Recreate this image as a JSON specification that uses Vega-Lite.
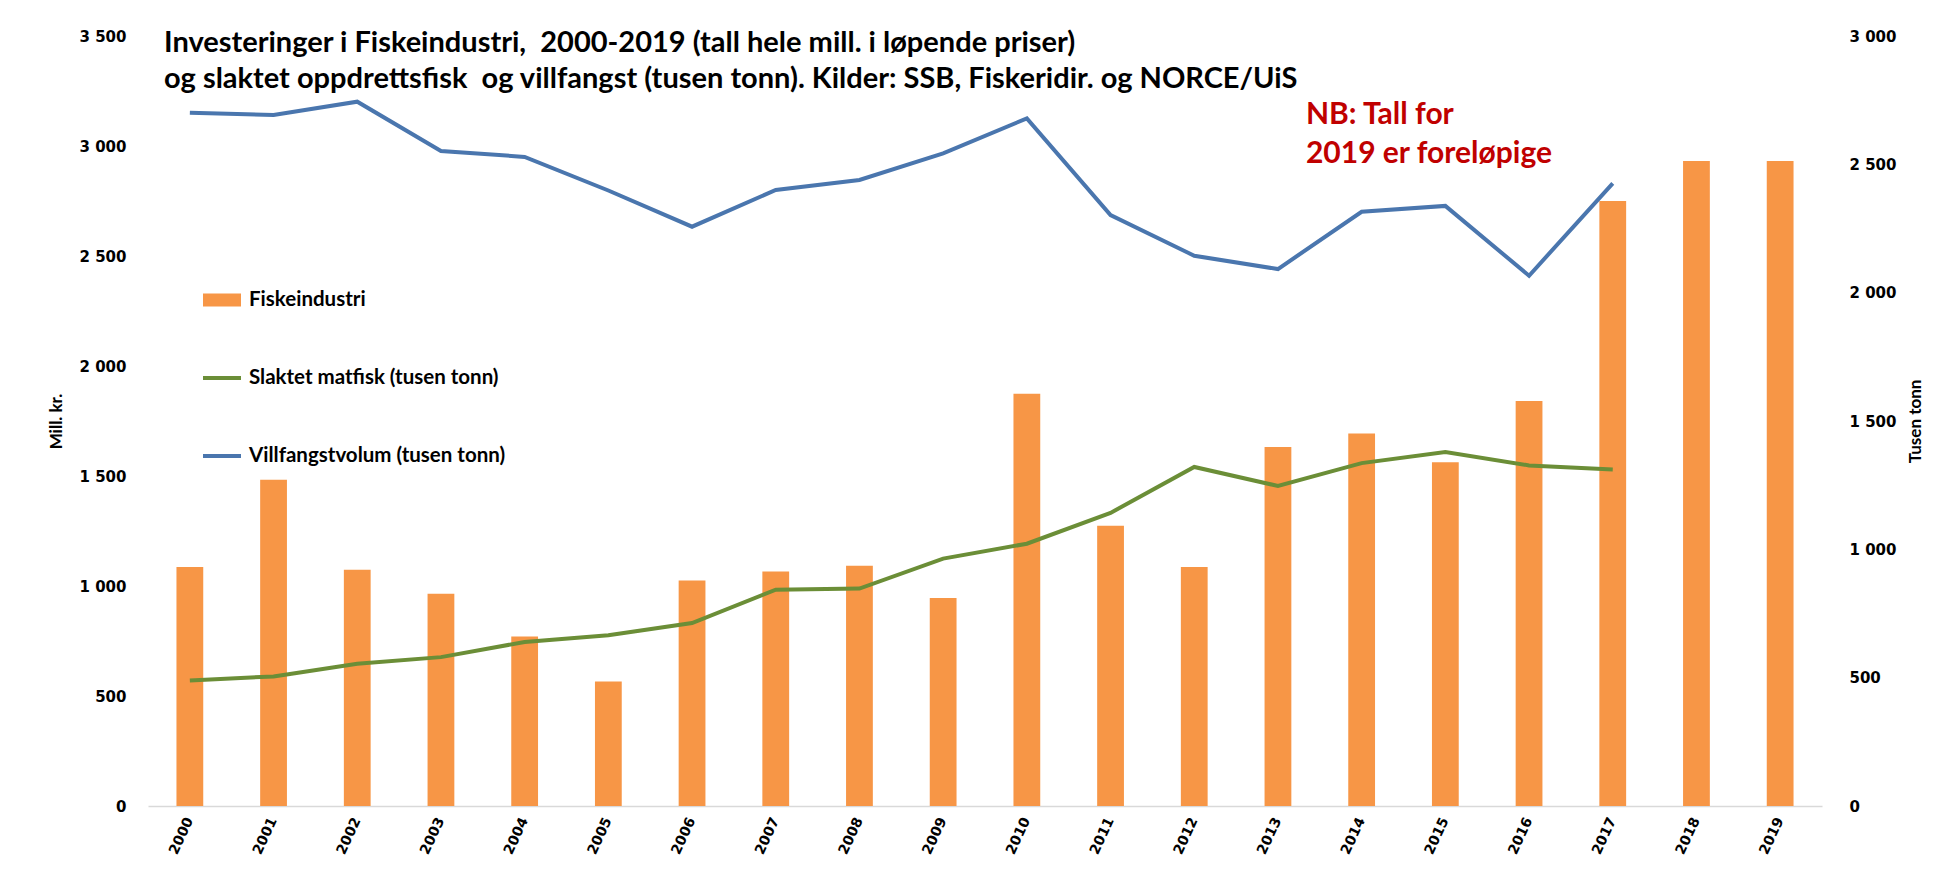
{
  "$schema": "https://vega.github.io/schema/vega-lite/v6.json",
  "width": 1674,
  "height": 770,
  "autosize": "none",
  "padding": {"left": 148, "top": 36, "right": 113, "bottom": 71},
  "background": "white",
  "config": {"view": {"stroke": null}, "font": "Lato"},
  "title": {
    "text": ["Investeringer i Fiskeindustri,\u00a0 2000-2019 (tall hele mill. i løpende priser)", "og slaktet oppdrettsfisk\u00a0 og villfangst (tusen tonn). Kilder: SSB, Fiskeridir. og NORCE/UiS"],
    "anchor": "start",
    "frame": "group",
    "orient": "top",
    "offset": 0,
    "dx": 16,
    "dy": 65,
    "font": "Lato",
    "fontSize": 29,
    "fontWeight": "bold",
    "color": "black",
    "lineHeight": 36,
    "baseline": "top"
  },
  "data": {
    "values": [
      {"year": "2000", "series": "Fiskeindustri", "value": 1086},
      {"year": "2001", "series": "Fiskeindustri", "value": 1483},
      {"year": "2002", "series": "Fiskeindustri", "value": 1074},
      {"year": "2003", "series": "Fiskeindustri", "value": 965},
      {"year": "2004", "series": "Fiskeindustri", "value": 771},
      {"year": "2005", "series": "Fiskeindustri", "value": 566},
      {"year": "2006", "series": "Fiskeindustri", "value": 1025},
      {"year": "2007", "series": "Fiskeindustri", "value": 1066},
      {"year": "2008", "series": "Fiskeindustri", "value": 1092},
      {"year": "2009", "series": "Fiskeindustri", "value": 945},
      {"year": "2010", "series": "Fiskeindustri", "value": 1874},
      {"year": "2011", "series": "Fiskeindustri", "value": 1274},
      {"year": "2012", "series": "Fiskeindustri", "value": 1086},
      {"year": "2013", "series": "Fiskeindustri", "value": 1632},
      {"year": "2014", "series": "Fiskeindustri", "value": 1693},
      {"year": "2015", "series": "Fiskeindustri", "value": 1563},
      {"year": "2016", "series": "Fiskeindustri", "value": 1841},
      {"year": "2017", "series": "Fiskeindustri", "value": 2750},
      {"year": "2018", "series": "Fiskeindustri", "value": 2932},
      {"year": "2019", "series": "Fiskeindustri", "value": 2932},
      {"year": "2000", "series": "Slaktet matfisk (tusen tonn)", "value": 489},
      {"year": "2001", "series": "Slaktet matfisk (tusen tonn)", "value": 505},
      {"year": "2002", "series": "Slaktet matfisk (tusen tonn)", "value": 554},
      {"year": "2003", "series": "Slaktet matfisk (tusen tonn)", "value": 580},
      {"year": "2004", "series": "Slaktet matfisk (tusen tonn)", "value": 639},
      {"year": "2005", "series": "Slaktet matfisk (tusen tonn)", "value": 665},
      {"year": "2006", "series": "Slaktet matfisk (tusen tonn)", "value": 713},
      {"year": "2007", "series": "Slaktet matfisk (tusen tonn)", "value": 843},
      {"year": "2008", "series": "Slaktet matfisk (tusen tonn)", "value": 847},
      {"year": "2009", "series": "Slaktet matfisk (tusen tonn)", "value": 964},
      {"year": "2010", "series": "Slaktet matfisk (tusen tonn)", "value": 1022},
      {"year": "2011", "series": "Slaktet matfisk (tusen tonn)", "value": 1142},
      {"year": "2012", "series": "Slaktet matfisk (tusen tonn)", "value": 1321},
      {"year": "2013", "series": "Slaktet matfisk (tusen tonn)", "value": 1247},
      {"year": "2014", "series": "Slaktet matfisk (tusen tonn)", "value": 1336},
      {"year": "2015", "series": "Slaktet matfisk (tusen tonn)", "value": 1379},
      {"year": "2016", "series": "Slaktet matfisk (tusen tonn)", "value": 1327},
      {"year": "2017", "series": "Slaktet matfisk (tusen tonn)", "value": 1311},
      {"year": "2000", "series": "Villfangstvolum (tusen tonn)", "value": 2701},
      {"year": "2001", "series": "Villfangstvolum (tusen tonn)", "value": 2692},
      {"year": "2002", "series": "Villfangstvolum (tusen tonn)", "value": 2744},
      {"year": "2003", "series": "Villfangstvolum (tusen tonn)", "value": 2552},
      {"year": "2004", "series": "Villfangstvolum (tusen tonn)", "value": 2529},
      {"year": "2005", "series": "Villfangstvolum (tusen tonn)", "value": 2398},
      {"year": "2006", "series": "Villfangstvolum (tusen tonn)", "value": 2257},
      {"year": "2007", "series": "Villfangstvolum (tusen tonn)", "value": 2400},
      {"year": "2008", "series": "Villfangstvolum (tusen tonn)", "value": 2439},
      {"year": "2009", "series": "Villfangstvolum (tusen tonn)", "value": 2543},
      {"year": "2010", "series": "Villfangstvolum (tusen tonn)", "value": 2679},
      {"year": "2011", "series": "Villfangstvolum (tusen tonn)", "value": 2302},
      {"year": "2012", "series": "Villfangstvolum (tusen tonn)", "value": 2144},
      {"year": "2013", "series": "Villfangstvolum (tusen tonn)", "value": 2092},
      {"year": "2014", "series": "Villfangstvolum (tusen tonn)", "value": 2315},
      {"year": "2015", "series": "Villfangstvolum (tusen tonn)", "value": 2338},
      {"year": "2016", "series": "Villfangstvolum (tusen tonn)", "value": 2066},
      {"year": "2017", "series": "Villfangstvolum (tusen tonn)", "value": 2426}
    ]
  },
  "layer": [
    {
      "transform": [{"filter": "datum.series === 'Fiskeindustri'"}],
      "mark": {"type": "bar"},
      "encoding": {
        "x": {
          "field": "year", "type": "ordinal",
          "scale": {"paddingInner": 0.68, "paddingOuter": 0.34},
          "axis": {
            "title": null, "labelAngle": -65, "labelFont": "DejaVu Sans", "labelFontSize": 14,
            "labelFontWeight": "bold", "labelColor": "black", "labelPadding": 12,
            "ticks": false, "domainColor": "#D9D9D9", "domainWidth": 1.5
          }
        },
        "y": {
          "field": "value", "type": "quantitative",
          "scale": {"domain": [0, 3500], "nice": false},
          "axis": {
            "orient": "left", "title": "Mill. kr.", "titleFont": "Lato", "titleFontSize": 17,
            "titleFontWeight": "bold", "titleColor": "black", "titlePadding": 14,
            "labelFont": "DejaVu Sans", "labelFontSize": 15, "labelFontWeight": "bold",
            "labelColor": "black", "labelPadding": 22, "ticks": false, "domain": false, "grid": false,
            "values": [0, 500, 1000, 1500, 2000, 2500, 3000, 3500],
            "labelExpr": "replace(format(datum.value, ','), ',', ' ')"
          }
        },
        "color": {
          "field": "series", "type": "nominal",
          "scale": {
            "domain": ["Fiskeindustri", "Slaktet matfisk (tusen tonn)", "Villfangstvolum (tusen tonn)"],
            "range": ["#F79646", "#6B8E37", "#4A76AE"]
          },
          "legend": null
        }
      }
    },
    {
      "transform": [{"filter": "datum.series !== 'Fiskeindustri'"}],
      "mark": {"type": "line", "strokeWidth": 4},
      "encoding": {
        "x": {"field": "year", "type": "ordinal"},
        "y": {
          "field": "value", "type": "quantitative",
          "scale": {"domain": [0, 3000], "nice": false},
          "axis": {
            "orient": "right", "title": "Tusen tonn", "titleAngle": 270, "titleFont": "Lato", "titleFontSize": 17,
            "titleFontWeight": "bold", "titleColor": "black", "titlePadding": 29,
            "labelFont": "DejaVu Sans", "labelFontSize": 15, "labelFontWeight": "bold",
            "labelColor": "black", "labelPadding": 27, "ticks": false, "domain": false, "grid": false,
            "values": [0, 500, 1000, 1500, 2000, 2500, 3000],
            "labelExpr": "replace(format(datum.value, ','), ',', ' ')"
          }
        },
        "color": {"field": "series", "type": "nominal", "legend": null}
      }
    },
    {
      "data": {
        "values": [
          {"year": "2013", "note": "NB: Tall for", "value": 3140},
          {"year": "2013", "note": "2019 er foreløpige", "value": 2963}
        ]
      },
      "mark": {"type": "text", "align": "left", "baseline": "middle", "dx": 28, "font": "Lato", "fontSize": 30, "fontWeight": "bold", "color": "#C00000"},
      "encoding": {
        "x": {"field": "year", "type": "ordinal"},
        "y": {"field": "value", "type": "quantitative", "scale": {"domain": [0, 3500], "nice": false}, "axis": null},
        "text": {"field": "note"}
      }
    },
    {
      "mark": {"type": "point", "filled": true, "opacity": 0},
      "encoding": {
        "x": {"field": "year", "type": "ordinal"},
        "color": {
          "field": "series", "type": "nominal",
          "legend": {
            "orient": "none", "legendX": 55, "legendY": 245, "title": null, "padding": 0,
            "symbolSize": 1444, "symbolOpacity": 1, "symbolStrokeWidth": 0,
            "labelFont": "Lato", "labelFontSize": 20.5, "labelFontWeight": "bold", "labelColor": "black",
            "labelOffset": 8, "rowPadding": 48, "labelLimit": 400
          }
        },
        "shape": {
          "field": "series", "type": "nominal",
          "scale": {
            "domain": ["Fiskeindustri", "Slaktet matfisk (tusen tonn)", "Villfangstvolum (tusen tonn)"],
            "range": ["M-1,-0.34H1V0.34H-1Z", "M-1,-0.1H1V0.1H-1Z", "M-1,-0.1H1V0.1H-1Z"]
          },
          "legend": {
            "orient": "none", "legendX": 55, "legendY": 245, "title": null, "padding": 0,
            "symbolSize": 1444, "symbolOpacity": 1, "symbolStrokeWidth": 0,
            "labelFont": "Lato", "labelFontSize": 20.5, "labelFontWeight": "bold", "labelColor": "black",
            "labelOffset": 8, "rowPadding": 48, "labelLimit": 400
          }
        }
      }
    }
  ],
  "resolve": {"scale": {"y": "independent"}, "legend": {"color": "independent", "shape": "independent"}}
}
